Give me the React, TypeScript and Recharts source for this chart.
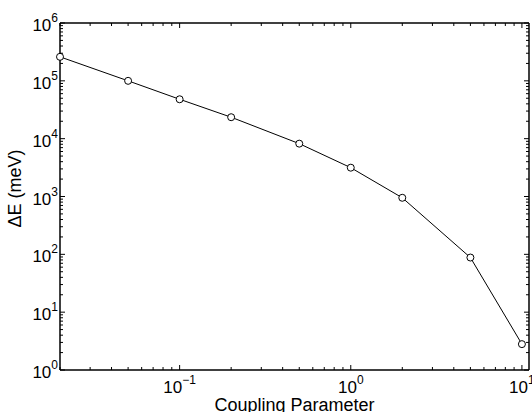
import { LineChart, Line, XAxis, YAxis, Label } from "recharts";

const couplings = [0.02, 0.05, 0.1, 0.2, 0.5, 1, 2, 5, 10];
const deltaE = [260000, 100000, 48000, 23500, 8200, 3150, 950, 88, 2.8];

const xMajor = [0.1, 1, 10];
const xMinor = [0.02, 0.03, 0.04, 0.05, 0.06, 0.07, 0.08, 0.09, 0.2, 0.3, 0.4, 0.5, 0.6, 0.7, 0.8, 0.9, 2, 3, 4, 5, 6, 7, 8, 9];
const yMajor = [1, 10, 100, 1000, 10000, 100000, 1000000];
const yMinor: number[] = [];
for (const d of yMajor.slice(0, -1)) {
  for (let k = 2; k <= 9; k++) yMinor.push(d * k);
}

const data = couplings.map((c, i) => ({ c, e: deltaE[i] }));

const FONT = "'Liberation Sans', Arial, Helvetica, sans-serif";
const MAJOR = 5;
const MINOR = 3;

const isMajor = (v: number, majors: number[]) => majors.some((m) => Math.abs(m - v) / m < 1e-6);
const exponent = (v: number) => String(Math.round(Math.log10(v))).replace("-", "\u2212");

function makeXTick(side: "bottom" | "top") {
  return (props: any) => {
    const { x, y, payload } = props;
    const v = payload.value;
    const major = isMajor(v, xMajor);
    const len = major ? MAJOR : MINOR;
    const dir = side === "bottom" ? -1 : 1;
    return (
      <g>
        <line x1={x} y1={y} x2={x} y2={y + dir * len} stroke="#000" strokeWidth={1} />
        {side === "bottom" && major && (
          <text x={x} y={y + 23} textAnchor="middle" fontFamily={FONT} fontSize={17} fill="#000">
            <tspan>10</tspan>
            <tspan dy={-9} fontSize={12}>{exponent(v)}</tspan>
          </text>
        )}
      </g>
    );
  };
}

function makeYTick(side: "left" | "right") {
  return (props: any) => {
    const { x, y, payload } = props;
    const v = payload.value;
    const major = isMajor(v, yMajor);
    const len = major ? MAJOR : MINOR;
    const dir = side === "left" ? 1 : -1;
    return (
      <g>
        <line x1={x} y1={y} x2={x + dir * len} y2={y} stroke="#000" strokeWidth={1} />
        {side === "left" && major && (
          <text x={x - 2} y={y + 8} textAnchor="end" fontFamily={FONT} fontSize={17} fill="#000">
            <tspan>10</tspan>
            <tspan dy={-9} fontSize={12}>{exponent(v)}</tspan>
          </text>
        )}
      </g>
    );
  };
}

const YTitle = (props: any) => {
  const { viewBox } = props;
  const cx = viewBox.x - 38;
  const cy = viewBox.y + viewBox.height / 2 - 8;
  return (
    <text
      x={cx}
      y={cy}
      transform={`rotate(-90, ${cx}, ${cy})`}
      textAnchor="middle"
      fontFamily={FONT}
      fontSize={18}
      fill="#000"
    >
      ΔE (meV)
    </text>
  );
};

const OpenCircle = (props: any) => {
  const { cx, cy } = props;
  return <circle cx={cx} cy={cy} r={3.5} fill="#fff" stroke="#000" strokeWidth={1} />;
};

export default function App() {
  const xTicks = [...xMinor, ...xMajor].sort((a, b) => a - b);
  const yTicks = [...yMinor, ...yMajor].sort((a, b) => a - b);
  const axisLine = { stroke: "#000", strokeWidth: 1.5 };
  return (
    <div style={{ position: "absolute", left: 0, top: 0, width: 532, height: 412, background: "#fff" }}>
      <LineChart width={532} height={412} data={data} margin={{ top: 22, right: 2, bottom: 41, left: 59 }}>
        <XAxis
          dataKey="c"
          type="number"
          scale="log"
          domain={[0.02, 11]}
          ticks={xTicks}
          interval={0}
          tick={makeXTick("bottom")}
          tickLine={false}
          tickSize={0}
          tickMargin={0}
          height={1}
          axisLine={axisLine}
        >
          <Label value="Coupling Parameter" position="bottom" offset={27} fontFamily={FONT} fontSize={18} fill="#000" />
        </XAxis>
        <XAxis
          xAxisId="top"
          orientation="top"
          dataKey="c"
          type="number"
          scale="log"
          domain={[0.02, 11]}
          ticks={xTicks}
          interval={0}
          tick={makeXTick("top")}
          tickLine={false}
          tickSize={0}
          tickMargin={0}
          height={1}
          axisLine={axisLine}
        />
        <YAxis
          dataKey="e"
          type="number"
          scale="log"
          domain={[1, 1000000]}
          ticks={yTicks}
          interval={0}
          tick={makeYTick("left")}
          tickLine={false}
          tickSize={0}
          tickMargin={0}
          width={1}
          axisLine={axisLine}
        >
          <Label content={<YTitle />} />
        </YAxis>
        <YAxis
          yAxisId="right"
          orientation="right"
          dataKey="e"
          type="number"
          scale="log"
          domain={[1, 1000000]}
          ticks={yTicks}
          interval={0}
          tick={makeYTick("right")}
          tickLine={false}
          tickSize={0}
          tickMargin={0}
          width={1}
          axisLine={axisLine}
        />
        <Line
          dataKey="e"
          type="linear"
          stroke="#000"
          strokeWidth={1}
          dot={<OpenCircle />}
          activeDot={false}
          isAnimationActive={false}
        />
      </LineChart>
    </div>
  );
}
